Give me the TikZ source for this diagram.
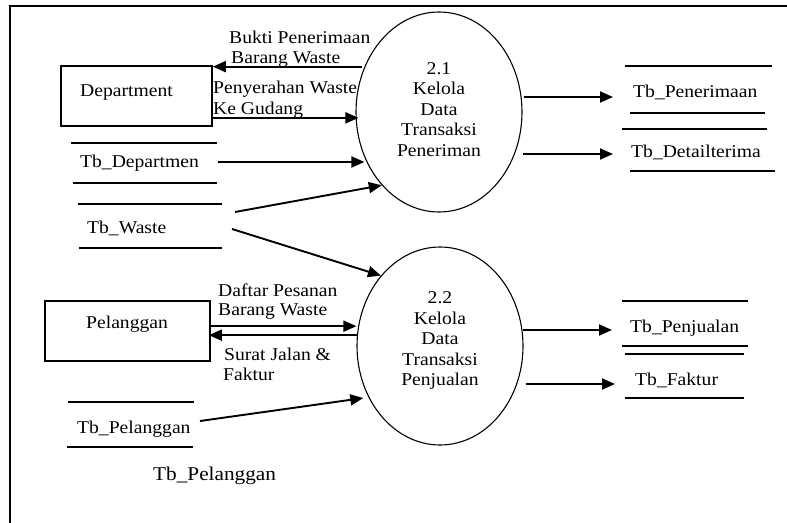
\documentclass[tikz,border=0pt]{standalone}
\usepackage{fontspec}
\setmainfont[FakeStretch=1.09]{Liberation Serif}
\usetikzlibrary{shapes.geometric,arrows.meta,calc}

\begin{document}
\begin{tikzpicture}[x=1pt,y=-1pt,
  every node/.style={font=\fontsize{18}{20.5}\selectfont, inner sep=0pt},
  flow/.style={line width=1.9pt, -{Triangle[length=13pt,width=11pt]}},
  storeline/.style={line width=1.8pt},
  entity/.style={draw, rectangle, line width=1.7pt},
  process/.style={draw, ellipse, line width=1.1pt, align=center,
                  minimum width=166pt, minimum height=200pt},
  txt/.style={anchor=base west}]

\useasboundingbox (0,0) rectangle (787,522);
\clip (0,0) rectangle (787,522);

% page frame
\draw[line width=2pt] (9.5,540) -- (9.5,6) -- (800,6);

% processes
\node[process, text depth=5pt] (p21) at (439,112)
  {2.1\\Kelola\\Data\\Transaksi\\Peneriman};
\node[process, minimum height=198pt, text depth=14pt] (p22) at (440,346)
  {2.2\\Kelola\\Data\\Transaksi\\Penjualan};

% external entities
\node[entity, minimum width=151pt, minimum height=60pt] (dept) at (136.5,96) {};
\node[txt] (deptt) at (80,96) {Department};
\node[entity, minimum width=165pt, minimum height=60pt] (pel) at (127.5,331) {};
\node[txt] (pelt) at (86,328) {Pelanggan};

% data stores
\node[txt] (sdep) at (80,167) {Tb\_Departmen};
\draw[storeline] (71,143) -- (217,143) (73,183) -- (217,183);
\node[txt] (swaste) at (87,233) {Tb\_Waste};
\draw[storeline] (78,204) -- (222,204) (79,248) -- (222,248);
\node[txt] (spel) at (77,433) {Tb\_Pelanggan};
\draw[storeline] (68,402) -- (194,402) (67,447) -- (193,447);
\node[txt] (spen) at (633,97) {Tb\_Penerimaan};
\draw[storeline] (625,66) -- (772,66) (630,113) -- (765,113);
\node[txt] (sdet) at (631,157) {Tb\_Detailterima};
\draw[storeline] (622,129) -- (767,129) (630,171) -- (775,171);
\node[txt] (sjual) at (630,332) {Tb\_Penjualan};
\draw[storeline] (622,301) -- (748,301) (622,346) -- (748,346);
\node[txt] (sfak) at (635,385) {Tb\_Faktur};
\draw[storeline] (625,354) -- (744,354) (625,398) -- (744,398);

\node[txt, font=\fontsize{19.5}{22}\selectfont] (spelcap) at (153,480) {Tb\_Pelanggan};

% flow labels
\node[txt] (lbuk1) at (229,43) {Bukti Penerimaan};
\node[txt] (lbuk2) at (231,63) {Barang Waste};
\node[txt] (lpen1) at (213,93) {Penyerahan Waste};
\node[txt] (lpen2) at (213,114) {Ke Gudang};
\node[txt] (ldaf1) at (218,296) {Daftar Pesanan};
\node[txt] (ldaf2) at (218,315) {Barang Waste};
\node[txt] (lsur1) at (224,360) {Surat Jalan \&};
\node[txt] (lsur2) at (223,380) {Faktur};

% flows around 2.1
\draw[flow] ($(dept.north east -| p21.150)+(-2,1.5)$) -- ($(dept.north east)+(0,1.5)$);
\draw[flow] ($(dept.south east)+(0,-9)$) -- ($(dept.south east -| p21.west)+(3,-9)$);
\draw[flow] ($(sdep.base west)+(138,-5)$) -- ($(sdep.base west -| p21.west)+(9,-5)$);
\draw[flow] ($(swaste.base west)+(148,-21)$) -- (p21.232);
\draw[flow] ($(spen.base west -| p21.east)+(1,0)$) -- ($(spen.base west)+(-20,0)$);
\draw[flow] ($(sdet.base west -| p21.east)+(0,-3)$) -- ($(sdet.base west)+(-18,-3)$);

% flows around 2.2
\draw[flow] ($(swaste.base west)+(145,-4)$) -- (p22.130);
\draw[flow] ($(pel.north east)+(0,26)$) -- ($(pel.north east -| p22.west)+(0,26)$);
\draw[flow] ($(pel.north east -| p22.west)+(1,35)$) -- ($(pel.north east)+(-2,35)$);
\draw[flow] ($(spel.base west)+(123,-12)$) -- ($(p22.214)+(-4,3)$);
\draw[flow] ($(sjual.base west -| p22.east)+(-1,-2)$) -- ($(sjual.base west)+(-18,-2)$);
\draw[flow] ($(sfak.base west -| p22.east)+(2,-1)$) -- ($(sfak.base west)+(-20,-1)$);

\end{tikzpicture}
\end{document}
